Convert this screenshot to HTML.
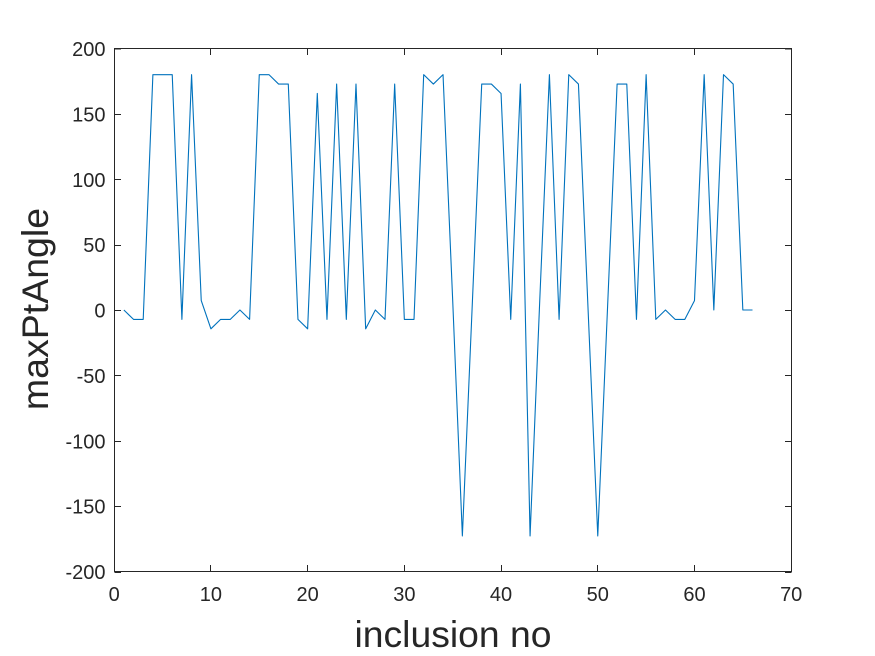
<!DOCTYPE html>
<html>
<head>
<meta charset="utf-8">
<title>maxPtAngle chart</title>
<style>
html,body{margin:0;padding:0;background:#fff;width:875px;height:656px;overflow:hidden}
svg{display:block;font-family:"Liberation Sans",Arial,sans-serif}
</style>
</head>
<body>
<svg id="chart" width="875" height="656" viewBox="0 0 875 656" xmlns="http://www.w3.org/2000/svg">
<rect x="0" y="0" width="875" height="656" fill="#ffffff"/>
<g id="ticks"></g>
<path id="series" fill="none" stroke="#0072BD" stroke-width="1.1" stroke-linejoin="round"/>
<rect x="114.5" y="48.5" width="677" height="523" fill="none" stroke="#262626" stroke-width="1"/>
<text x="453" y="647" text-anchor="middle" font-size="37.3" fill="#262626">inclusion no</text>
<text x="48" y="309" text-anchor="middle" font-size="37.5" fill="#262626" transform="rotate(-90 48 309)">maxPtAngle</text>
</svg>
<script>
const xTicks = [0, 10, 20, 30, 40, 50, 60, 70];
const yTicks = [-200, -150, -100, -50, 0, 50, 100, 150, 200];
const inclusionNo = [1,2,3,4,5,6,7,8,9,10,11,12,13,14,15,16,17,18,19,20,21,22,23,24,25,26,27,28,29,30,31,32,33,34,35,36,37,38,39,40,41,42,43,44,45,46,47,48,49,50,51,52,53,54,55,56,57,58,59,60,61,62,63,64,65,66];
const maxPtAngle = [0,-7.2,-7.2,180,180,180,-7.2,180,7.2,-14.4,-7.2,-7.2,0,-7.2,180,180,172.8,172.8,-7.2,-14.4,165.6,-7.2,172.8,-7.2,172.8,-14.4,0,-7.2,172.8,-7.2,-7.2,180,172.8,180,7.2,-172.8,0,172.8,172.8,165.6,-7.2,172.8,-172.8,7.2,180,-7.2,180,172.8,0,-172.8,0,172.8,172.8,-7.2,180,-7.2,0,-7.2,-7.2,7.2,180,0,180,172.8,0,0];

const NS = 'http://www.w3.org/2000/svg';
const plot = { left: 114.2, right: 791.2, top: 48.5, bottom: 571.5 };
const xDomain = [0, 70];
const yDomain = [-200, 200];
function xScale(v) {
  return plot.left + (v - xDomain[0]) / (xDomain[1] - xDomain[0]) * (plot.right - plot.left);
}
function yScale(v) {
  return plot.bottom - (v - yDomain[0]) / (yDomain[1] - yDomain[0]) * (plot.bottom - plot.top);
}
const tickGroup = document.getElementById('ticks');
const tickLength = 6.5;
function addLine(x1, y1, x2, y2) {
  const l = document.createElementNS(NS, 'line');
  
  
  l.setAttribute('x1', x1);
  l.setAttribute('y1', y1);
  l.setAttribute('x2', x2);
  l.setAttribute('y2', y2);
  l.setAttribute('stroke', '#262626');
  l.setAttribute('stroke-width', '1');
  tickGroup.appendChild(l);
}
function addLabel(x, y, anchor, str) {
  const t = document.createElementNS(NS, 'text');
  
  
  t.setAttribute('x', x);
  t.setAttribute('y', y);
  t.setAttribute('text-anchor', anchor);
  t.setAttribute('font-size', '20');
  t.setAttribute('fill', '#262626');
  t.textContent = str;
  tickGroup.appendChild(t);
}
xTicks.forEach(function (v) {
  const x = Math.floor(xScale(v)) + 0.5;
  addLine(x, plot.bottom, x, plot.bottom - tickLength);
  addLine(x, plot.top, x, plot.top + tickLength);
  addLabel(xScale(v), 601, 'middle', String(v));
});
yTicks.forEach(function (v) {
  const y = Math.round(yScale(v)) + (v === 200 ? 0 : 0.5);
  addLine(114.5, y, 114.5 + tickLength, y);
  addLine(791.5, y, 791.5 - tickLength, y);
  addLabel(105.5, yScale(v) + 7.5, 'end', String(v));
});
const d = inclusionNo.map(function (n, i) {
  return (i ? 'L' : 'M') + xScale(n).toFixed(2) + ' ' + yScale(maxPtAngle[i]).toFixed(2);
}).join(' ');
document.getElementById('series').setAttribute('d', d);
</script>
</body>
</html>
